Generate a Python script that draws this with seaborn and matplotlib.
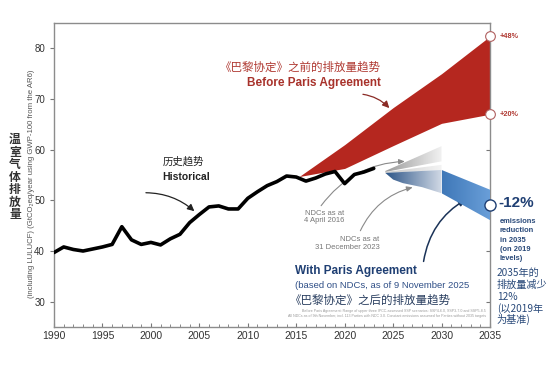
import numpy as np
import pandas as pd
import seaborn as sns
from matplotlib import pyplot as plt
from matplotlib.colors import LinearSegmentedColormap
from matplotlib.ticker import MultipleLocator

# historical emissions (GtCO2eq/yr)
hist_years = list(range(1990, 2024))
hist_values = [39.7, 40.8, 40.3, 40.0, 40.4, 40.8, 41.3, 44.8, 42.2, 41.3,
               41.7, 41.2, 42.4, 43.3, 45.6, 47.2, 48.7, 48.9, 48.3, 48.3,
               50.4, 51.7, 52.9, 53.7, 54.8, 54.6, 53.8, 54.4, 55.2, 55.7,
               53.3, 55.1, 55.6, 56.3]

# before Paris Agreement range
before_years = [2015.3, 2020, 2025, 2030, 2035]
before_low = [54.7, 56.3, 60.8, 65.2, 67.0]
before_high = [54.7, 61.0, 68.3, 75.0, 82.4]

# with Paris Agreement range (NDCs, Nov 2025)
with_years = [2024.2, 2025, 2026, 2028, 2030, 2035]
with_low = [55.4, 54.1, 53.4, 52.6, 51.4, 46.1]
with_high = [55.4, 55.5, 55.6, 55.8, 56.0, 52.1]

# older NDC ranges
ndc2016_years = [2024.2, 2030]
ndc2016_low = [55.6, 57.7]
ndc2016_high = [55.8, 60.7]
ndc2023_years = [2024.2, 2030]
ndc2023_low = [55.4, 56.0]
ndc2023_high = [55.6, 57.0]

end_markers = [82.4, 67.0, 49.0]

cn_note = ['2035年的', '排放量减少', '12%', '(以2019年', '为基准)']

RED = '#b5271f'
NAVY = '#1f3f73'


def gradient_band(ax, x, low, high, colors, z):
    poly = ax.fill_between(x, low, high, color='none', lw=0, zorder=z)
    cmap = LinearSegmentedColormap.from_list('g', colors)
    grad = np.linspace(0, 1, 256).reshape(1, -1)
    img = ax.imshow(grad, cmap=cmap, aspect='auto', zorder=z,
                    extent=[min(x), max(x), min(low), max(high)])
    img.set_clip_path(poly.get_paths()[0], transform=ax.transData)


def main():
    sns.set_style('white')
    plt.rcParams['font.family'] = ['Liberation Sans', 'Noto Sans CJK SC', 'DejaVu Sans']

    fig = plt.figure(figsize=(5.55, 3.7), dpi=100)
    ax = fig.add_axes([0.0973, 0.1162, 0.7856, 0.8216])

    hist = pd.DataFrame({'year': hist_years, 'value': hist_values})

    ax.fill_between(before_years, before_low, before_high, color=RED, lw=0, zorder=2)

    gradient_band(ax, ndc2016_years, ndc2016_low, ndc2016_high,
                  ['#9a9a9a', '#f2f2f2'], 3)
    gradient_band(ax, ndc2023_years, ndc2023_low, ndc2023_high,
                  ['#c8c8c8', '#f4f4f4'], 3)
    gradient_band(ax, with_years[:5], with_low[:5], with_high[:5],
                  ['#2b5487', '#d2dae6'], 4)
    gradient_band(ax, with_years[4:], with_low[4:], with_high[4:],
                  ['#3f78b8', '#6a9fd9'], 4)

    sns.lineplot(data=hist, x='year', y='value', color='black', lw=2.6, ax=ax, zorder=5)

    ax.plot([2035] * 2, end_markers[:2], 'o', ms=7, mfc='white', mec='#b06060',
            mew=0.8, clip_on=False, zorder=10)
    ax.plot([2035], end_markers[2:], 'o', ms=8, mfc='white', mec=NAVY,
            mew=1, clip_on=False, zorder=10)

    ax.set_xlim(1990, 2035)
    ax.set_ylim(25, 85)
    ax.set_xlabel('')
    ax.set_ylabel('')
    ax.set_xticks(range(1990, 2036, 5))
    ax.set_yticks(range(30, 81, 10))
    ax.xaxis.set_minor_locator(MultipleLocator(1))
    ax.tick_params(axis='x', which='both', direction='in', bottom=True,
                   colors='#777777', labelcolor='#333333', labelsize=7.5, pad=3)
    ax.tick_params(axis='x', which='major', length=3)
    ax.tick_params(axis='x', which='minor', length=2)
    ax.tick_params(axis='y', direction='out', left=True, length=3,
                   colors='#777777', labelcolor='#333333', labelsize=7)
    for s in ax.spines.values():
        s.set_color('#8c8c8c')
        s.set_linewidth(1)

    right = ax.secondary_yaxis('right')
    right.set_yticks(range(30, 81, 10))
    right.tick_params(direction='in', length=3, colors='#777777', labelright=False)
    right.spines['right'].set_visible(False)

    # labels
    fig.text(0.027, 0.52, '温\n室\n气\n体\n排\n放\n量', ha='center', va='center',
             fontsize=8.5, fontweight='bold', color='#333333', linespacing=1.05)
    fig.text(0.056, 0.503,
             '(including LULUCF) (GtCO\u2082eq/year using GWP-100 from the AR6)',
             rotation=90, ha='center', va='center', fontsize=5.6, color='#555555')

    ax.text(2001.2, 57.7, '历史趋势', fontsize=7.5, color='#222222', va='center')
    ax.text(2001.2, 54.7, 'Historical', fontsize=7.5, fontweight='bold',
            color='#222222', va='center')
    ax.annotate('', xy=(2004.7, 47.5), xytext=(1999.2, 51.5),
                arrowprops=dict(arrowstyle='-|>,head_length=0.4,head_width=0.2',
                                color='#222222', lw=0.9,
                                connectionstyle='arc3,rad=-0.2'))

    ax.text(2023.7, 76.1, '《巴黎协定》之前的排放量趋势', ha='right', va='center',
            fontsize=8.3, color='#b03a33')
    ax.text(2023.7, 73.2, 'Before Paris Agreement', ha='right', va='center',
            fontsize=8.5, fontweight='bold', color='#a8322b')
    ax.annotate('', xy=(2024.8, 67.8), xytext=(2021.6, 71.0),
                arrowprops=dict(arrowstyle='-|>,head_length=0.4,head_width=0.2',
                                color='#8a2a25', lw=0.9,
                                connectionstyle='arc3,rad=-0.2'))

    ax.text(2020.0, 46.7, 'NDCs as at\n4 April 2016', ha='right', va='center',
            fontsize=5.5, color='#777777', linespacing=1.1)
    ax.annotate('', xy=(2026.5, 57.7), xytext=(2017.4, 48.5),
                arrowprops=dict(arrowstyle='-|>,head_length=0.35,head_width=0.15',
                                color='#8a8a8a', lw=0.8,
                                connectionstyle='arc3,rad=-0.25'))
    ax.text(2023.6, 41.5, 'NDCs as at\n31 December 2023', ha='right', va='center',
            fontsize=5.5, color='#777777', linespacing=1.1)
    ax.annotate('', xy=(2027.3, 52.7), xytext=(2021.5, 43.5),
                arrowprops=dict(arrowstyle='-|>,head_length=0.35,head_width=0.15',
                                color='#8a8a8a', lw=0.8,
                                connectionstyle='arc3,rad=-0.25'))

    ax.text(2014.9, 36.0, 'With Paris Agreement', fontsize=8.5, fontweight='bold',
            color=NAVY, va='center')
    ax.text(2014.9, 33.2, '(based on NDCs, as of 9 November 2025', fontsize=6.8,
            color='#2f4f87', va='center')
    ax.text(2014.3, 30.2, '《巴黎协定》之后的排放量趋势', fontsize=8.3,
            color='#2a3f60', va='center')
    ax.annotate('', xy=(2032.8, 50.5), xytext=(2028.1, 37.4),
                arrowprops=dict(arrowstyle='-|>,head_length=0.45,head_width=0.2',
                                color='#1b3358', lw=1.1,
                                connectionstyle='arc3,rad=-0.25'))

    ax.text(2034.6, 27.7,
            'Before Paris Agreement: Range of upper three IPCC-assessed SSP scenarios: '
            'SSP4-6.0, SSP3-7.0 and SSP5-8.5\n'
            'All NDCs as of 9th November, incl. 113 Parties with NDC 3.0. Constant '
            'emissions assumed for Parties without 2035 targets',
            ha='right', va='center', fontsize=2.6, color='#999999', linespacing=1.3)

    # right-hand annotations
    ax.text(2036.0, end_markers[0], '+48%', fontsize=5.3, fontweight='bold',
            color='#b03a33', va='center', clip_on=False)
    ax.text(2036.0, end_markers[1], '+20%', fontsize=5.3, fontweight='bold',
            color='#b03a33', va='center', clip_on=False)
    ax.text(2035.9, end_markers[2] + 0.5, '-12%', fontsize=11, fontweight='bold',
            color=NAVY, va='center', clip_on=False)
    ax.text(2036.0, 46.5, 'emissions\nreduction\nin 2035\n(on 2019\nlevels)',
            fontsize=5.4, fontweight='bold', color='#2a4a7a', va='top',
            linespacing=1.45, clip_on=False)
    for i, line in enumerate(cn_note):
        ax.text(2035.7, 35.6 - i * 2.3, line, fontsize=7.3, color='#2a4a7a',
                va='center', family=['Noto Sans CJK SC'], clip_on=False)

    plt.savefig('out.png', dpi=100)
    plt.close()


if __name__ == '__main__':
    main()
